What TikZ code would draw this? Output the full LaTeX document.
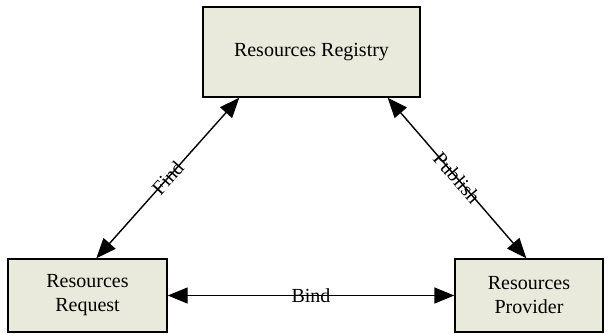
\documentclass[tikz,border=0pt]{standalone}
\usepackage{fontspec}
\setmainfont{Liberation Serif}
\usetikzlibrary{arrows.meta}
\definecolor{boxfill}{RGB}{234,234,220}
\tikzset{
  unit/.style={draw=black, line width=1.4pt, fill=boxfill, align=center,
    font=\fontsize{20}{24}\selectfont, inner sep=0pt},
  link/.style={line width=1.4pt, {Triangle[length=20pt,width=16pt]}-{Triangle[length=20pt,width=16pt]}},
  lbl/.style={font=\fontsize{20}{24}\selectfont, inner sep=0pt, sloped}
}
\begin{document}
\begin{tikzpicture}[x=1pt,y=1pt]
  \useasboundingbox (0,0) rectangle (608,333);
  \node[unit, minimum width=217pt, minimum height=90pt] (reg) at (311.5,281) {Resources Registry};
  \node[unit, minimum width=159pt, minimum height=73pt] (req) at (87.5,37.5) {Resources\\Request};
  \node[unit, minimum width=148pt, minimum height=73pt] (prov) at (529,37.5) {Resources\\Provider};

  \coordinate (findtop) at ([xshift=37pt]reg.south west);
  \coordinate (findbot) at ([xshift=89pt]req.north west);
  \coordinate (pubtop) at ([xshift=-33pt]reg.south east);
  \coordinate (pubbot) at ([xshift=72pt]prov.north west);

  \draw[link] (findbot) -- node[lbl] {Find} (findtop);
  \draw[link] (pubtop) -- node[lbl] {Publish} (pubbot);
  \draw[link] (req.east) -- node[lbl] {Bind} (prov.west);
\end{tikzpicture}
\end{document}
